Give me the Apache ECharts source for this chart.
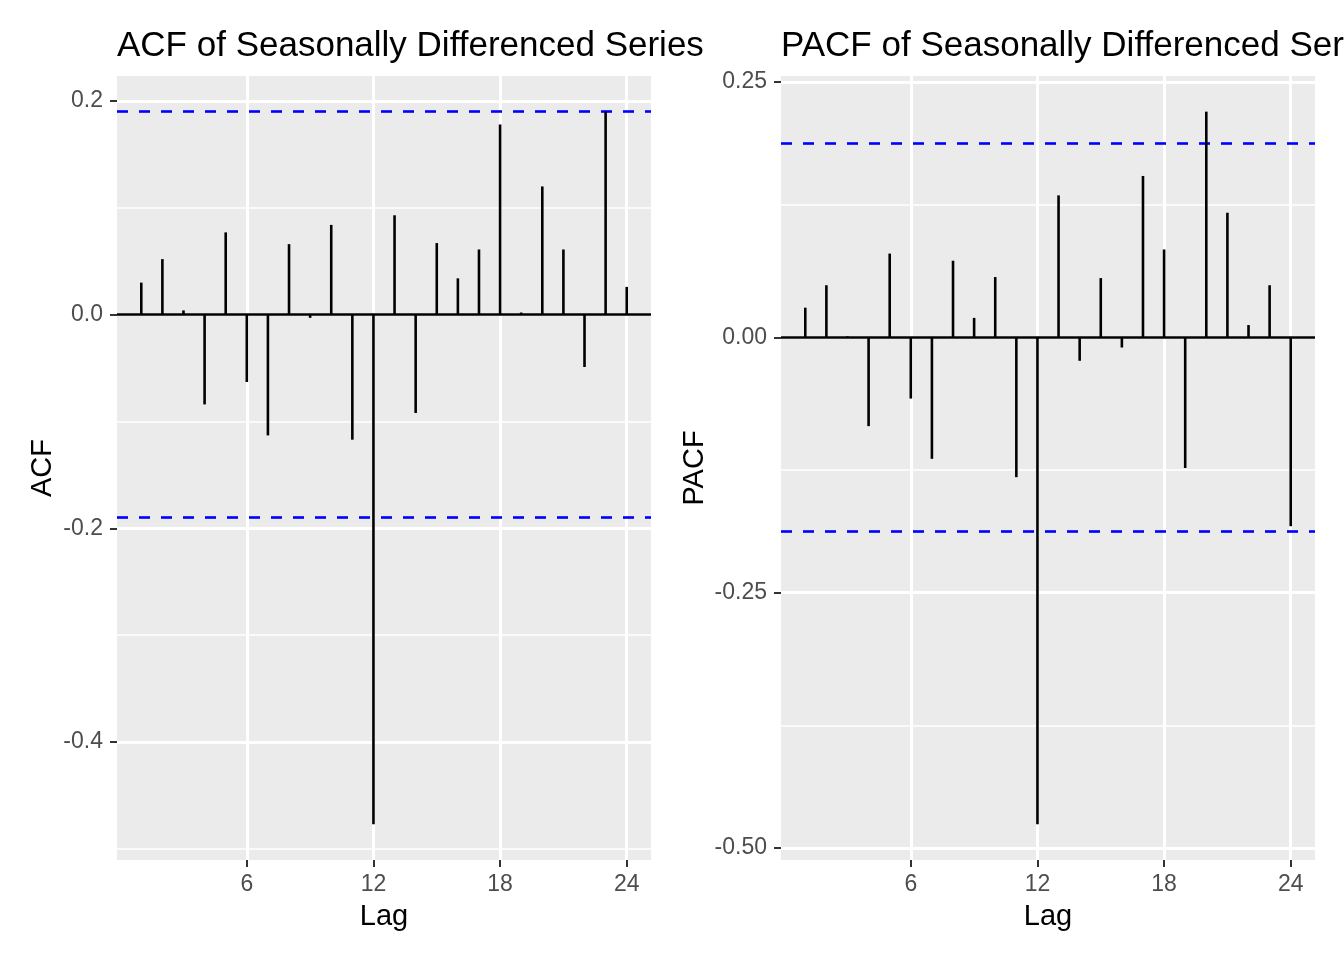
<!DOCTYPE html>
<html>
<head>
<meta charset="utf-8">
<script src="https://cdn.jsdelivr.net/npm/echarts@6/dist/echarts.min.js"></script>
<style>html,body{margin:0;padding:0;background:#fff}#c{width:1344px;height:960px}</style>
</head>
<body>
<div id="c"></div>
<script>
var lags = [1,2,3,4,5,6,7,8,9,10,11,12,13,14,15,16,17,18,19,20,21,22,23,24];
var acfValues = [0.030,0.052,0.004,-0.084,0.077,-0.063,-0.113,0.066,-0.003,0.084,-0.117,-0.477,0.093,-0.092,0.067,0.034,0.061,0.178,0.002,0.120,0.061,-0.049,0.190,0.026];
var pacfValues = [0.029,0.051,0.001,-0.087,0.082,-0.060,-0.119,0.075,0.019,0.059,-0.137,-0.477,0.139,-0.023,0.058,-0.010,0.158,0.086,-0.128,0.221,0.122,0.012,0.051,-0.185];
var ciBound = 0.189;
var xTicks = [6,12,18,24];
var acfYTicks = [-0.4,-0.2,0,0.2];
var acfYMinor = [-0.5,-0.3,-0.1,0.1];
var pacfYTicks = [-0.5,-0.25,0,0.25];
var pacfYMinor = [-0.375,-0.125,0.125];
var titles = ['ACF of Seasonally Differenced Series','PACF of Seasonally Differenced Series'];
var yNames = ['ACF','PACF'];
var xName = 'Lag';

var FONT = "'Liberation Sans', Arial, Helvetica, sans-serif";
function range(vals){
  var lo = Math.min(Math.min.apply(null, vals), -ciBound);
  var hi = Math.max(Math.max.apply(null, vals), ciBound);
  var p = (hi - lo) * 0.05;
  return [lo - p, hi + p];
}
var xlo = lags[0] - (lags[lags.length-1]-lags[0])*0.05;
var xhi = lags[lags.length-1] + (lags[lags.length-1]-lags[0])*0.05;
var rA = range(acfValues), rP = range(pacfValues);

var grids = [
  {left:117, top:76, width:534, height:784, show:true, backgroundColor:'#EBEBEB', borderWidth:0},
  {left:781, top:76, width:534, height:784, show:true, backgroundColor:'#EBEBEB', borderWidth:0}
];
function xAxis(i){
  return {type:'value', gridIndex:i, min:xlo, max:xhi, position:'bottom',
    name:xName, nameLocation:'middle', nameGap:42,
    nameTextStyle:{fontFamily:FONT, fontSize:29, color:'#000'},
    axisLine:{show:false, onZero:false},
    axisTick:{show:true, customValues:xTicks, length:7, lineStyle:{color:'#333333', width:2}},
    axisLabel:{show:true, customValues:xTicks, margin:13, fontFamily:FONT, fontSize:23, color:'#4D4D4D'},
    splitLine:{show:true, lineStyle:{color:'#FFFFFF', width:3}}
  };
}
function yAxis(i, r, ticks, dec, gap){
  return {type:'value', gridIndex:i, min:r[0], max:r[1], position:'left',
    name:yNames[i], nameLocation:'middle', nameGap:gap, nameRotate:90,
    nameTextStyle:{fontFamily:FONT, fontSize:29, color:'#000'},
    axisLine:{show:false, onZero:false},
    axisTick:{show:true, customValues:ticks, length:7, lineStyle:{color:'#333333', width:2}},
    axisLabel:{show:true, customValues:ticks, margin:14, fontFamily:FONT, fontSize:23, color:'#4D4D4D',
      formatter:function(v){return Number(v).toFixed(dec);}},
    splitLine:{show:true, lineStyle:{color:'#FFFFFF', width:3}}
  };
}
function minorSeries(i, vals){
  return {type:'line', xAxisIndex:i, yAxisIndex:i, data:[], z:1, silent:true,
    markLine:{silent:true, symbol:['none','none'], label:{show:false}, animation:false,
      lineStyle:{color:'#FFFFFF', width:1.5, type:'solid'},
      data: vals.map(function(v){return {yAxis:v};})}};
}
function barSeries(i, vals){
  return {type:'bar', xAxisIndex:i, yAxisIndex:i, barWidth:2.6, z:5, silent:true,
    itemStyle:{color:'#000'},
    data: lags.map(function(l,k){return [l, vals[k]];})};
}
function refSeries(i){
  return {type:'line', xAxisIndex:i, yAxisIndex:i, data:[], z:10, silent:true,
    markLine:{silent:true, symbol:['none','none'], label:{show:false}, animation:false,
      data:[
        {yAxis:0, lineStyle:{color:'#000', width:2.6, type:'solid'}},
        {yAxis:ciBound, lineStyle:{color:'#0000FF', width:2.6, type:[11,11]}},
        {yAxis:-ciBound, lineStyle:{color:'#0000FF', width:2.6, type:[11,11]}}
      ]}};
}
var chart = echarts.init(document.getElementById('c'), null, {renderer:'canvas'});
chart.setOption({
  animation:false,
  backgroundColor:'#FFFFFF',
  title:[
    {text:titles[0], left:117, top:29, padding:0, textStyle:{fontFamily:FONT, fontSize:35, fontWeight:'normal', color:'#000'}},
    {text:titles[1], left:781, top:29, padding:0, textStyle:{fontFamily:FONT, fontSize:35, fontWeight:'normal', color:'#000'}}
  ],
  grid:grids,
  xAxis:[xAxis(0), xAxis(1)],
  yAxis:[yAxis(0, rA, acfYTicks, 1, 60), yAxis(1, rP, pacfYTicks, 2, 72)],
  series:[
    minorSeries(0, acfYMinor), minorSeries(1, pacfYMinor),
    barSeries(0, acfValues), barSeries(1, pacfValues),
    refSeries(0), refSeries(1)
  ]
});
</script>
</body>
</html>
